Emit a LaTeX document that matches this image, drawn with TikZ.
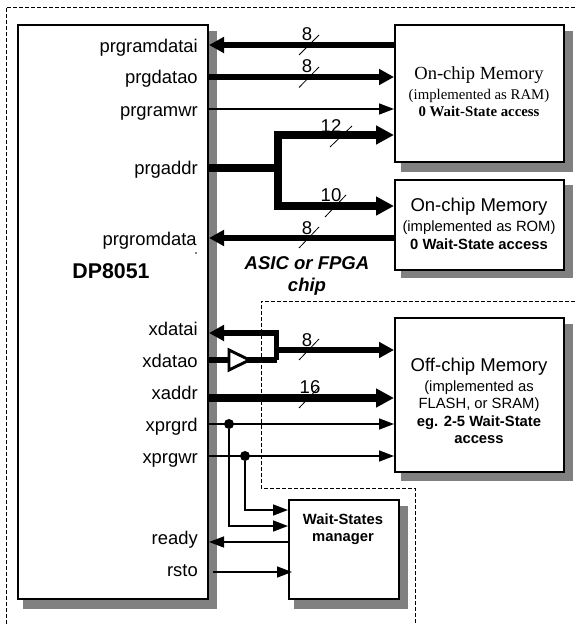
\documentclass[tikz,border=0pt]{standalone}
\usepackage{fontspec}
\setmainfont{Liberation Sans}
\newfontfamily\timesf{Liberation Serif}
\usetikzlibrary{arrows.meta}
\definecolor{shadowc}{HTML}{808080}
\newcommand{\titlef}{\fontsize{13.9}{14.2}\selectfont}
\newcommand{\subf}{\fontsize{11.1}{13}\selectfont}
\tikzset{
  x=0.75pt,y=-0.75pt,
  shad/.style={fill=shadowc,draw=none},
  block/.style={draw=black,fill=white,line width=1.5pt,inner sep=0pt,anchor=north west},
  port/.style={anchor=base east,inner sep=0pt,font=\fontsize{13.8}{14}\selectfont},
  memtext/.style={align=center,inner sep=0pt,font=\subf},
  width/.style={inner sep=0pt,anchor=base,font=\fontsize{13.9}{14}\selectfont},
  tick/.style={draw=black,line width=0.6pt},
  border/.style={draw=black,line width=0.55pt,dash pattern=on 3pt off 1.5pt},
  busa/.style={line width=4pt,-{Triangle[length=11.25pt,width=11.5pt]}},
  busb/.style={line width=6pt,-{Triangle[length=13.5pt,width=13.5pt]}},
  sig/.style={line width=1.1pt,-{Triangle[length=11.25pt,width=8.25pt]}},
  dotn/.style={circle,fill=black,inner sep=0pt,minimum size=7.5pt},
}
\begin{document}
\begin{tikzpicture}
\useasboundingbox (0,0) rectangle (576,624);
\fill[white] (0,0) rectangle (576,624);
% chip boundaries
\draw[border] (6,624) -- (6,7) -- (575,7);
\draw[border] (575,301) -- (261,301) -- (261,488) -- (415,488) -- (415,624);
% shadows
\fill[shad] (23,31) rectangle (217,609);
\fill[shad] (401,31) rectangle (573,172);
\fill[shad] (401,185) rectangle (573,278);
\fill[shad] (401,324) rectangle (573,481);
\fill[shad] (294,506) rectangle (408,609);
% blocks
\node[block,minimum width=142.5pt,minimum height=430.5pt] (dp) at (17,24) {};
\node[block,minimum width=126.75pt,minimum height=102.75pt] (mema) at (394,24) {};
\node[block,minimum width=126.75pt,minimum height=67.5pt] (memb) at (394,178.5) {};
\node[block,minimum width=126.75pt,minimum height=115.5pt] (memc) at (394,317) {};
\node[block,minimum width=82.5pt,minimum height=74.25pt] (wait) at (288,499) {};
% row coordinates
\coordinate (ya) at (0,45);
\coordinate (yb) at (0,77);
\coordinate (yc) at (0,109);
\coordinate (yd) at (0,135);
\coordinate (ye) at (0,168);
\coordinate (yf) at (0,206);
\coordinate (yg) at (0,238);
\coordinate (yh) at (0,333);
\coordinate (yi) at (0,350);
\coordinate (yj) at (0,360);
\coordinate (yk) at (0,398);
\coordinate (yl) at (0,424);
\coordinate (ym) at (0,456);
\coordinate (yn) at (0,510);
\coordinate (yo) at (0,526);
\coordinate (yp) at (0,542);
\coordinate (yq) at (0,572);
\coordinate (branch) at (277.5,168);
\coordinate (merge) at (276.5,350);
\coordinate (rstostart) at (213,572);
\coordinate (rstoend) at (292,572);
% connectors
\draw[busa,line width=4.6pt] (mema.west |- ya) -- (dp.east |- ya);
\draw[busa,line width=3.9pt] (dp.east |- yb) -- (mema.west |- yb);
\draw[sig] (dp.east |- yc) -- (mema.west |- yc);
\draw[line width=6pt] (dp.east |- ye) -- (branch);
\draw[busb,line cap=butt] (branch |- ye) -- (branch |- yd) -- (mema.west |- yd);
\draw[busb] (branch |- ye) -- (branch |- yf) -- (memb.west |- yf);
\draw[busa,line width=4.4pt] (memb.west |- yg) -- (dp.east |- yg);
% bidirectional external data bus
\draw[busa,line width=4.4pt] (merge |- yj) -- (merge |- yh) -- (dp.east |- yh);
\draw[line width=3.8pt] (dp.east |- yj) -- (merge |- yj);
\draw[line width=3.8pt,line join=miter] (merge |- yh) -- (merge |- yj);
\draw[busa,line width=4.6pt] (merge) -- (memc.west |- yi);
\draw[draw=black,fill=white,line width=2.2pt,line join=miter] (229,350) -- (249.5,360) -- (229,370) -- cycle;
\draw[busb] (dp.east |- yk) -- (memc.west |- yk);
\node[dotn] (dota) at (229,424) {};
\node[dotn] (dotb) at (245,456) {};
\draw[sig] (dp.east |- yl) -- (memc.west |- yl);
\draw[sig] (dp.east |- ym) -- (memc.west |- ym);
\draw[sig] (dotb) |- (wait.west |- yn);
\draw[sig] (dota) |- (wait.west |- yo);
\draw[sig] (wait.west |- yp) -- (dp.east |- yp);
\draw[sig] (rstostart) -- (rstoend);
% bus width ticks
\draw[tick] (299,55) -- (319,35);
\draw[tick] (299,87.5) -- (319,67);
\draw[tick] (330,147) -- (352,126);
\draw[tick] (325,217) -- (346,195);
\draw[tick] (299,248) -- (319,227);
\draw[tick] (299,360) -- (319,339);
\draw[tick] (299,408) -- (319,387);
\node[width] (wa) at (307,41) {8};
\node[width] (wb) at (307,73) {8};
\node[width] (wc) at (331,133) {12};
\node[width] (wd) at (331,201.5) {10};
\node[width] (we) at (307,234) {8};
\node[width] (wf) at (307,346) {8};
\node[width] (wg) at (310,393) {16};
% port labels
\node[port] (pa) at (198,52.5) {prgramdatai};
\node[port] (pb) at (198,84) {prgdatao};
\node[port] (pc) at (198,116.5) {prgramwr};
\node[port] (pd) at (198,175) {prgaddr};
\node[port] (pe) at (197,245) {prgromdata};
\node[port] (pf) at (198,335) {xdatai};
\node[port] (pg) at (198,367.5) {xdatao};
\node[port] (ph) at (198,399.5) {xaddr};
\node[port] (pi) at (198,431) {xprgrd};
\node[port] (pj) at (198,463) {xprgwr};
\node[port] (pk) at (198,544) {ready};
\node[port] (pl) at (198,576) {rsto};
\fill (196,253) circle (0.6pt);
% titles
\node[inner sep=0pt,font=\fontsize{16}{18}\selectfont\bfseries] (dpname) at (111,271) {DP8051};
\node[align=center,inner sep=0pt,font=\fontsize{13.9}{16.5}\selectfont\bfseries\itshape] (chip) at (307,276) {ASIC or FPGA\\chip};
\node[memtext,font=\timesf\subf] (mta) at (479,91.5) {{\titlef On-chip Memory}\\[2pt](implemented as RAM)\\\textbf{0 Wait-State access}};
\node[memtext] (mtb) at (479,224) {{\titlef On-chip Memory}\\[2pt](implemented as ROM)\\\textbf{0 Wait-State access}};
\node[memtext] (mtc) at (479,401) {{\titlef Off-chip Memory}\\[2pt](implemented as\\FLASH, or SRAM)\\\textbf{eg. 2-5 Wait-State}\\\textbf{access}};
\node[memtext,font=\subf\bfseries] (wtx) at (343,529.5) {Wait-States\\manager};
\end{tikzpicture}
\end{document}
